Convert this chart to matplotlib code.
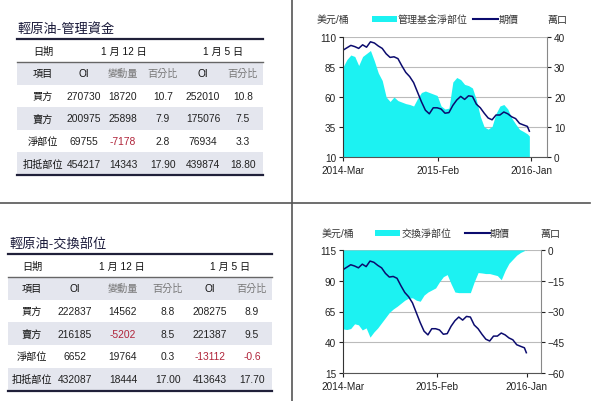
import matplotlib
matplotlib.use("Agg")
import matplotlib.pyplot as plt
from matplotlib.patches import Rectangle
from matplotlib.lines import Line2D

plt.rcParams['font.family'] = ['Liberation Sans', 'Noto Sans CJK TC', 'DejaVu Sans']

# ---- table data ----
row_names = ['買方', '賣方', '淨部位', '扣抵部位']
col_names = ['項目', 'OI', '變動量', '百分比', 'OI', '百分比']
date_names = ['1 月 12 日', '1 月 5 日']

mm_oi_new = ['270730', '200975', '69755', '454217']
mm_chg = ['18720', '25898', '-7178', '14343']
mm_pct_new = ['10.7', '7.9', '2.8', '17.90']
mm_oi_old = ['252010', '175076', '76934', '439874']
mm_pct_old = ['10.8', '7.5', '3.3', '18.80']

sw_oi_new = ['222837', '216185', '6652', '432087']
sw_chg = ['14562', '-5202', '19764', '18444']
sw_pct_new = ['8.8', '8.5', '0.3', '17.00']
sw_oi_old = ['208275', '221387', '-13112', '413643']
sw_pct_old = ['8.9', '9.5', '-0.6', '17.70']

# ---- chart data (weeks since 2014-03-04, sampled every 2 weeks) ----
weeks = [0, 2, 4, 6, 8, 10, 12, 14, 16, 18, 20, 22, 24, 26, 28, 30, 32, 34, 36, 38,
         40, 42, 44, 46, 48, 50, 52, 54, 56, 58, 60, 62, 64, 66, 68, 70, 72, 74, 76, 78,
         80, 82, 84, 86, 88, 90, 92, 94, 95]
price = [99, 101, 103, 102, 100.5, 103.5, 101.5, 106, 105, 102.5, 100.5, 96, 93, 93.5, 92, 86,
         80.5, 77, 72, 64, 56, 49, 46, 51, 51, 50, 46.5, 47, 53, 57.5, 60.5, 58, 61, 60.5,
         54, 51, 46.5, 42.5, 41, 45, 45, 47.5, 46, 43.5, 42, 38, 36.7, 35.5, 31.5]
mm_net = [30, 32.5, 34, 33.5, 30.5, 33.5, 34.5, 35.5, 32, 28, 25.5, 20, 18.5, 20, 18.8, 18.3,
          17.8, 17.5, 17, 19.5, 21.5, 22, 21.5, 21, 20.5, 17, 16, 16.3, 25, 26.5, 25.8, 24.2,
          23.8, 23, 19, 13.5, 10, 9.3, 10.2, 14.5, 17, 17.5, 16, 13, 11, 9.2, 8.5, 7.7, 7.0]
sw_net = [-38.5, -38.8, -38.3, -36, -36.5, -39, -38, -42.5, -40, -38, -35.5, -33, -30.5, -28.8,
          -27.5, -26, -24.5, -23.5, -23.3, -24.5, -25, -22, -20.5, -19.5, -18.5, -15.5, -13,
          -12, -16.5, -20.5, -20.8, -20.8, -20.8, -20.8, -15.5, -11, -11.2, -11.5, -11.5, -12,
          -12.5, -14.5, -10, -6.5, -4.5, -2.5, -1.2, -0.3, 0.7]

CYAN = '#1CF2F2'
NAVY = '#0B0B6E'
SHADE = '#E4E6EE'
RED = '#B0243A'

fig = plt.figure(figsize=(6, 4.02), dpi=100)
bg = fig.add_axes([0, 0, 1, 1])
bg.set_xlim(0, 600)
bg.set_ylim(402, 0)
bg.axis('off')

# dividers
bg.add_line(Line2D([292, 292], [0, 402], color='#555555', lw=1.2))
bg.add_line(Line2D([0, 590], [204, 204], color='#555555', lw=1.2))


def draw_table(x0, x1, y_title, y_top, y_mid, row_h, cx, dx, title, cols):
    bg.text(x0 + 1, y_title, title, fontsize=9.5, color='#1a1a3a', ha='left', va='center')
    nrows = 5
    for i in range(nrows):
        if i % 2 == 0:
            bg.add_patch(Rectangle((x0, y_mid + i * row_h), x1 - x0, row_h,
                                   facecolor=SHADE, edgecolor='none'))
    bg.add_line(Line2D([x0, x1], [y_top, y_top], color='#20203a', lw=1.6))
    bg.add_line(Line2D([x0, x1], [y_mid, y_mid], color='#666666', lw=1.0))
    y_end = y_mid + nrows * row_h
    bg.add_line(Line2D([x0, x1], [y_end, y_end], color='#20203a', lw=1.6))
    yc = (y_top + y_mid) / 2
    bg.text(cx[0], yc, '日期', fontsize=7.3, ha='center', va='center', color='#111111')
    for x, d in zip(dx, date_names):
        bg.text(x, yc, d, fontsize=7.3, ha='center', va='center', color='#111111')
    yc = y_mid + row_h / 2
    for x, c in zip(cx, col_names):
        color = '#777777' if c in ('變動量', '百分比') else '#111111'
        bg.text(x, yc, c, fontsize=7.3, ha='center', va='center', color=color)
    for r in range(4):
        yc = y_mid + (r + 1.5) * row_h
        bg.text(cx[0], yc, row_names[r], fontsize=7.3, ha='center', va='center', color='#111111')
        for j, col in enumerate(cols):
            v = col[r]
            color = RED if v.startswith('-') else '#222222'
            bg.text(cx[j + 1], yc, v, fontsize=7.4, ha='center', va='center', color=color)


draw_table(17, 263, 29, 40, 63, 22.6, [43, 84, 123, 163, 203, 243], [124, 223],
           '輕原油-管理資金', [mm_oi_new, mm_chg, mm_pct_new, mm_oi_old, mm_pct_old])
draw_table(8, 272, 245, 255, 278, 22.7, [32, 75, 123, 168, 210, 252], [122, 230],
           '輕原油-交換部位', [sw_oi_new, sw_chg, sw_pct_new, sw_oi_old, sw_pct_old])


def draw_chart(rect, net, ylim, yticks, y2lim, y2ticks, xmax, xt, name, leg_y, leg_x):
    ax = fig.add_axes(rect)
    ax2 = ax.twinx()
    ax.set_zorder(ax2.get_zorder() + 1)
    ax.patch.set_visible(False)
    ax2.fill_between(weeks, 0, net, color=CYAN, lw=0, zorder=2)
    ax2.set_ylim(*y2lim)
    ax2.set_yticks(y2ticks)
    ax2.grid(axis='y', color='#BBBBBB', lw=0.8, zorder=1)
    ax2.set_axisbelow(True)
    ax.plot(weeks, price, color=NAVY, lw=1.1)
    ax.set_ylim(*ylim)
    ax.set_yticks(yticks)
    ax.set_xlim(0, xmax)
    ax.set_xticks(xt)
    ax.set_xticklabels(['2014-Mar', '2015-Feb', '2016-Jan'])
    for a in (ax, ax2):
        a.spines['top'].set_visible(False)
        a.tick_params(labelsize=7.2, length=3, width=0.8, colors='#222222', pad=2)
    ax.spines['right'].set_visible(False)
    ax2.spines['left'].set_visible(False)
    ax2.spines['bottom'].set_visible(False)
    ax.spines['left'].set_color('#333333')
    ax.spines['bottom'].set_color('#555555')
    ax2.spines['right'].set_color('#888888')
    ax.tick_params(axis='x', pad=3)
    # legend-like header
    lx0, px0, tx0, lnx0, ptx, rx = leg_x
    bg.text(lx0, leg_y, '美元/桶', fontsize=7.2, ha='left', va='center', color='#333333')
    bg.add_patch(Rectangle((px0, leg_y - 3), 25, 6, facecolor=CYAN, edgecolor='none'))
    bg.text(tx0, leg_y, name, fontsize=7.2, ha='left', va='center', color='#333333')
    bg.add_line(Line2D([lnx0, lnx0 + 25], [leg_y, leg_y], color=NAVY, lw=1.5))
    bg.text(ptx, leg_y, '期價', fontsize=7.2, ha='left', va='center', color='#333333')
    bg.text(rx, leg_y, '萬口', fontsize=7.2, ha='left', va='center', color='#333333')


draw_chart([343 / 600, 1 - 158 / 402, 204 / 600, 120 / 402], mm_net,
           (10, 110), [10, 35, 60, 85, 110], (0, 40), [0, 10, 20, 30, 40],
           104, [0, 48.5, 95.9], '管理基金淨部位', 20, (317, 372, 398, 473, 499, 547))
draw_chart([343 / 600, 1 - 374 / 402, 198 / 600, 123 / 402], sw_net,
           (15, 115), [15, 40, 65, 90, 115], (-60, 0), [-60, -45, -30, -15, 0],
           102.6, [0, 48.7, 95.3], '交換淨部位', 234, (322, 375, 402, 465, 490, 540))

fig.savefig('out.png', dpi=100)
